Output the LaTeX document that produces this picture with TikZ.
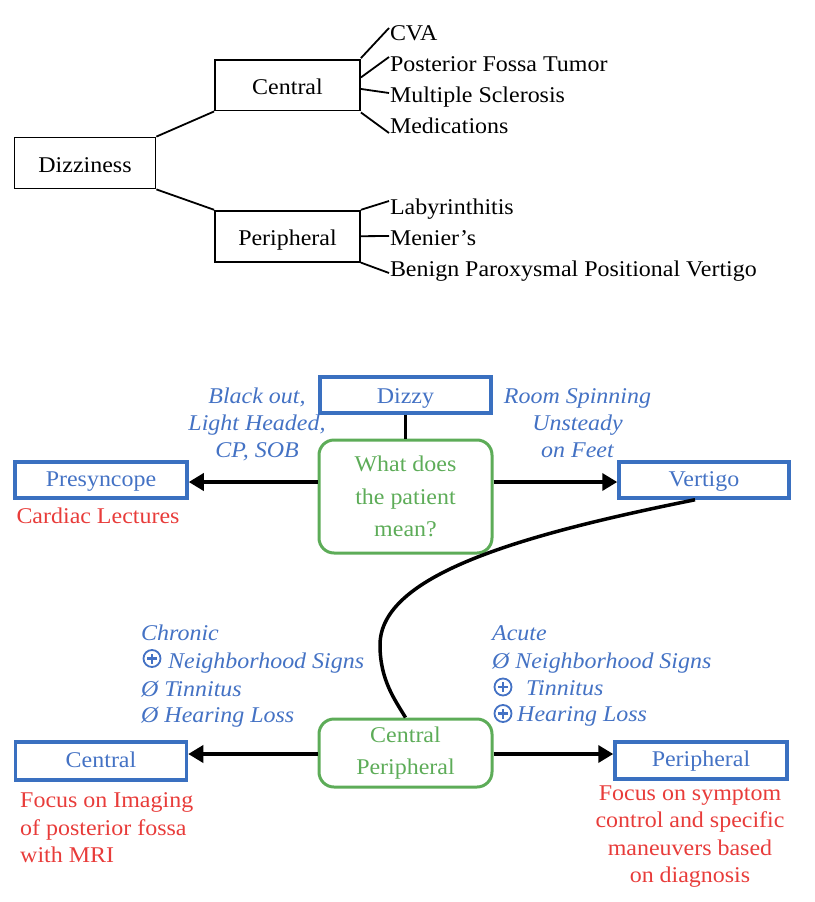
\documentclass[tikz,border=0pt]{standalone}
\usepackage{fontspec}
\setmainfont[FakeStretch=1.065]{Liberation Serif}
\usetikzlibrary{arrows.meta,calc}
\definecolor{tblue}{RGB}{68,114,196}
\definecolor{bblue}{RGB}{58,112,192}
\definecolor{tgreen}{RGB}{93,172,88}
\definecolor{tred}{RGB}{232,60,58}
\begin{document}
\begin{tikzpicture}[x=1pt,y=-1pt,font=\fontsize{22.5}{26}\selectfont,
  tbox/.style={draw,line width=1.8pt,inner sep=0,text height=18pt,text depth=0pt},
  leaf/.style={anchor=base west,inner sep=0,outer sep=0,text height=14pt,text depth=0pt},
  tline/.style={line width=1.8pt},
  bbox/.style={draw=bblue,line width=3.5pt,text=tblue,inner sep=0,text height=12pt,text depth=0pt},
  gbox/.style={draw=tgreen,line width=3pt,text=tgreen,rounded corners=15pt,align=center,inner sep=0,font=\fontsize{22.5}{32.5}\selectfont},
  conn/.style={line width=3.5pt},
  arr/.style={conn,-{Triangle[length=15pt,width=17pt]}},
  blab/.style={text=tblue,font=\fontsize{22.5}{26}\selectfont\itshape,inner sep=0,anchor=base},
  bwest/.style={blab,anchor=base west},
  rlab/.style={text=tred,inner sep=0,anchor=base},
  rwest/.style={rlab,anchor=base west},
  cplus/.style={circle,draw=tblue,line width=1.8pt,minimum size=17pt,inner sep=0},
  plusbar/.style={draw=tblue,line width=2.4pt}]
\useasboundingbox (0,0) rectangle (814,902);

% ---------- top tree ----------
\node[tbox,minimum width=141pt,minimum height=51pt] (dz) at (85,163) {Dizziness};
\node[tbox,minimum width=145pt,minimum height=50.5pt] (cen) at (287.5,85.3) {Central};
\node[tbox,minimum width=145pt,minimum height=51pt] (per) at (287.5,236.2) {Peripheral};
\draw[tline] (dz.north east) -- (cen.south west);
\draw[tline] (dz.south east) -- (per.north west);

\node[leaf] (cva) at (390,40.5) {CVA};
\node[leaf] (pft) at (390,71.5) {Posterior Fossa Tumor};
\node[leaf] (ms) at (390,102.5) {Multiple Sclerosis};
\node[leaf] (med) at (390,133.5) {Medications};
\node[leaf] (lab) at (390,214) {Labyrinthitis};
\node[leaf] (men) at (390,245) {Menier’s};
\node[leaf] (bppv) at (390,276.7) {Benign Paroxysmal Positional Vertigo};

\draw[tline] ([yshift=1pt]cen.north east) -- ([yshift=5.5pt,xshift=-1pt]cva.west);
\draw[tline] ($(cen.north east)!0.35!(cen.south east)$) -- ([yshift=7.5pt,xshift=-1pt]pft.west);
\draw[tline] ($(cen.north east)!0.57!(cen.south east)$) -- ([yshift=2.5pt,xshift=-1pt]ms.west);
\draw[tline] ([yshift=-1pt]cen.south east) -- ([yshift=-6.5pt,xshift=-1pt]med.west);
\draw[tline] (per.north east) -- ([yshift=6pt,xshift=-1pt]lab.west);
\draw[tline] (per.east) -- ([yshift=2pt,xshift=-1pt]men.west);
\draw[tline] (per.south east) -- ([yshift=-3.3pt,xshift=-1pt]bppv.west);

% ---------- bottom flow ----------
\node[bbox,minimum width=171pt,minimum height=36pt,text height=16pt] (dizzy) at (405.5,395) {Dizzy};
\node[gbox,minimum width=173pt,minimum height=113pt] (gtop) at (405.5,496.5) {What does\\the patient\\mean?};
\node[bbox,minimum width=172pt,minimum height=36pt] (pres) at (101,480) {Presyncope};
\node[bbox,minimum width=170pt,minimum height=36pt] (vert) at (704,480) {Vertigo};
\node[gbox,minimum width=173pt,minimum height=68pt] (gbot) at (405.5,753) {Central\\Peripheral};
\node[bbox,minimum width=171pt,minimum height=38pt] (cbl) at (101,761) {Central};
\node[bbox,minimum width=172pt,minimum height=37pt] (pbl) at (701,760.5) {Peripheral};

\draw[conn] (dizzy.south) -- (gtop.north);
\draw[arr] (gtop.west |- 0,482) -- (pres.east |- 0,482);
\draw[arr] (gtop.east |- 0,482) -- (vert.west |- 0,482);
\draw[arr] (gbot.west |- 0,754) -- (cbl.east |- 0,754);
\draw[arr] (gbot.east |- 0,754) -- (pbl.west |- 0,754);
\draw[conn] ([xshift=-9pt]vert.south) .. controls (520,535) and (380,575) .. (380,645)
  .. controls (380,680) and (395,700) .. (gbot.north);

% blue italic labels
\node[blab] (l1) at (257,403) {Black out,};
\node[blab] (l2) at (257,430.5) {Light Headed,};
\node[blab] (l3) at (257,457) {CP, SOB};
\node[blab] (r1) at (577.5,403) {Room Spinning};
\node[blab] (r2) at (577.5,430.5) {Unsteady};
\node[blab] (r3) at (577.5,457) {on Feet};

% red labels
\node[rlab] (cardiac) at (98,523.3) {Cardiac Lectures};
\node[rwest] (fl1) at (20,807) {Focus on Imaging};
\node[rwest] (fl2) at (20,835) {of posterior fossa};
\node[rwest] (fl3) at (20,862.7) {with MRI};
\node[rlab] (fr1) at (690,800) {Focus on symptom};
\node[rlab] (fr2) at (690,827.5) {control and specific};
\node[rlab] (fr3) at (690,855.5) {maneuvers based};
\node[rlab] (fr4) at (690,882.5) {on diagnosis};

% left list
\node[bwest] (ch) at (141,640.7) {Chronic};
\node[cplus] (pl1) at (152,658.5) {};
\draw[plusbar] ([xshift=-5pt]pl1.center) -- ([xshift=5pt]pl1.center) ([yshift=-5pt]pl1.center) -- ([yshift=5pt]pl1.center);
\node[bwest] (ch2) at (168,668) {Neighborhood Signs};
\node[bwest] (ch3) at (141,696) {Ø Tinnitus};
\node[bwest] (ch4) at (141,722.7) {Ø Hearing Loss};

% right list
\node[bwest] (ac) at (492,640) {Acute};
\node[bwest] (ac2) at (492,668) {Ø Neighborhood Signs};
\node[cplus] (pl2) at (503,687) {};
\draw[plusbar] ([xshift=-5pt]pl2.center) -- ([xshift=5pt]pl2.center) ([yshift=-5pt]pl2.center) -- ([yshift=5pt]pl2.center);
\node[bwest] (ac3) at (526,695) {Tinnitus};
\node[cplus] (pl3) at (503,713.5) {};
\draw[plusbar] ([xshift=-5pt]pl3.center) -- ([xshift=5pt]pl3.center) ([yshift=-5pt]pl3.center) -- ([yshift=5pt]pl3.center);
\node[bwest] (ac4) at (517,721.7) {Hearing Loss};
\end{tikzpicture}
\end{document}
